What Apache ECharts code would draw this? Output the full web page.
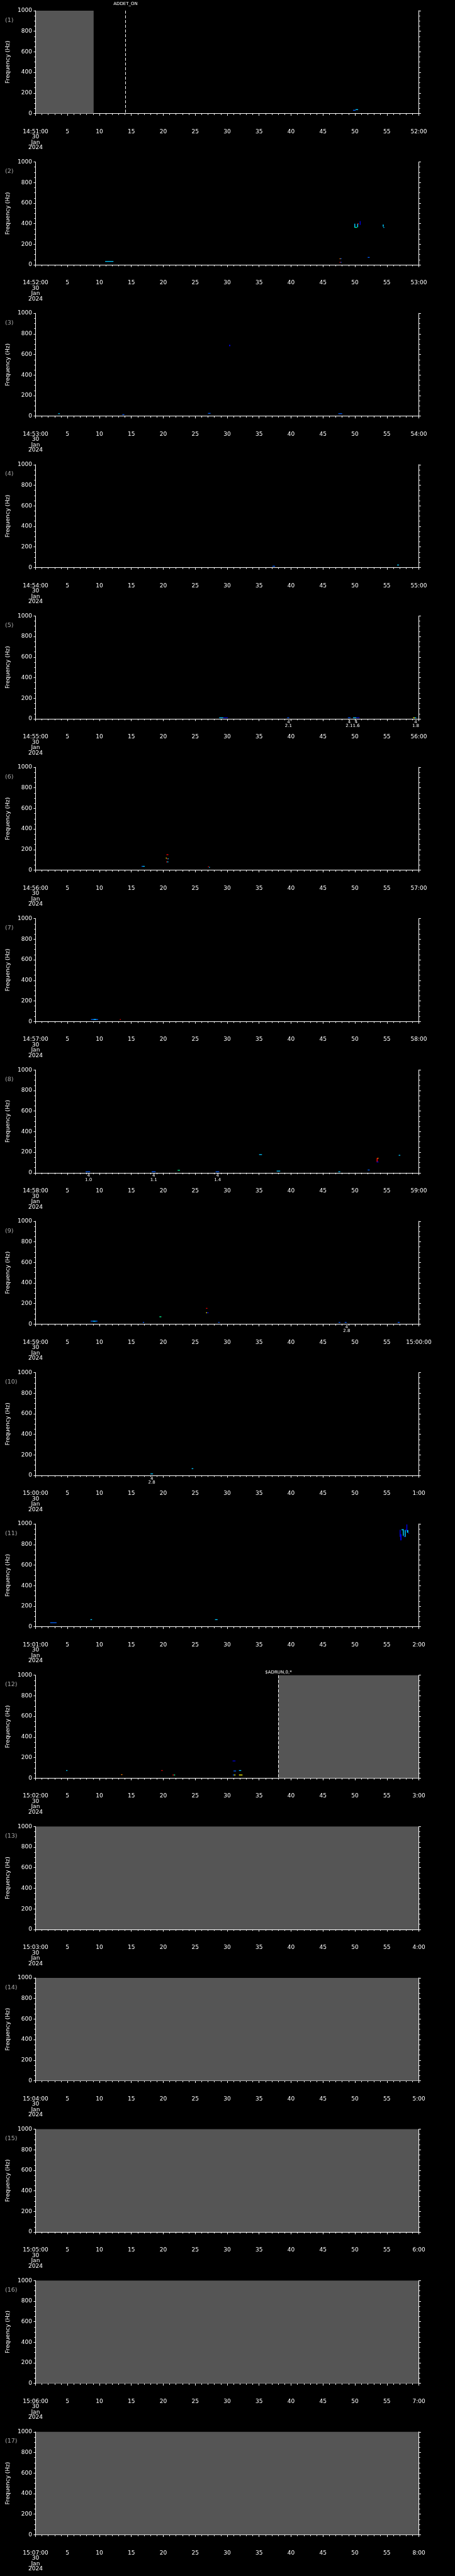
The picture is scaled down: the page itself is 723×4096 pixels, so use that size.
<!DOCTYPE html>
<html>
<head>
<meta charset="utf-8">
<script src="https://cdn.jsdelivr.net/npm/echarts@6/dist/echarts.min.js"></script>
<style>
html, body { margin: 0; padding: 0; background: #000; }
#chart { width: 723px; height: 4096px; }
</style>
</head>
<body>
<div id="chart"></div>
<script>
// one panel per minute, 30 Jan 2024
var panelStarts = ['14:51', '14:52', '14:53', '14:54', '14:55', '14:56', '14:57', '14:58', '14:59',
	'15:00', '15:01', '15:02', '15:03', '15:04', '15:05', '15:06', '15:07'];
var dateLines = ['30', 'Jan', '2024'];
var freqMin = 0, freqMax = 1000, freqStep = 200;
var secMin = 0, secMax = 60, secStep = 5;

// spectrogram blobs: [t0 (s), t1 (s), f0 (Hz), f1 (Hz), level]
var marks1 = [[49.7, 50.1, 30, 33, 1], [50.1, 50.5, 36, 40, 2]];
var marks2 = [[10.9, 12.2, 33, 33, 2], [47.6, 47.75, 59, 59, 5], [47.75, 47.9, 59, 59, 1],
	[47.6, 47.75, 24, 24, 6], [47.75, 47.9, 24, 24, 1], [49.9, 50.0, 362, 400, 2],
	[50.0, 50.35, 362, 366, 3], [50.35, 50.45, 366, 400, 2], [50.45, 50.6, 398, 400, 6],
	[50.75, 50.85, 388, 425, 0], [54.35, 54.45, 370, 392, 2], [54.45, 54.6, 362, 366, 2],
	[52.0, 52.3, 72, 72, 1]];
var marks3 = [[3.55, 3.8, 24, 24, 2], [13.6, 13.9, 15, 15, 1], [27.0, 27.4, 27, 27, 1],
	[47.4, 48.0, 24, 24, 1], [30.3, 30.5, 680, 694, 0]];
var marks4 = [[37.1, 37.5, 12, 12, 1], [56.6, 56.9, 24, 24, 2]];
var marks5 = [[28.75, 29.4, 10, 10, 2], [29.4, 30.1, 10, 10, 0], [39.4, 39.7, 10, 10, 1],
	[48.9, 49.3, 10, 10, 1], [49.7, 50.2, 10, 10, 2], [50.2, 50.7, 10, 10, 0],
	[59.1, 59.35, 10, 10, 4], [59.35, 59.6, 10, 10, 2]];
var marks6 = [[16.6, 16.8, 37, 37, 1], [16.8, 17.1, 37, 37, 2], [20.5, 20.8, 150, 150, 6],
	[20.4, 20.55, 117, 117, 4], [20.55, 20.7, 110, 110, 6], [20.7, 20.8, 110, 110, 2],
	[20.45, 20.6, 80, 80, 6], [20.6, 20.8, 80, 80, 2], [27.0, 27.15, 33, 33, 6], [27.15, 27.3, 27, 27, 2]];
var marks7 = [[8.7, 9.8, 19, 19, 1], [9.1, 9.5, 19, 19, 2], [13.2, 13.35, 19, 19, 6]];
var marks8 = [[7.85, 8.55, 10, 10, 1], [18.2, 18.8, 10, 10, 1], [22.25, 22.6, 24, 24, 3],
	[28.2, 28.75, 10, 10, 1], [35.0, 35.45, 177, 177, 2], [37.75, 38.3, 14, 19, 2],
	[47.4, 47.7, 10, 10, 2], [52.0, 52.3, 27, 27, 1], [53.4, 53.5, 105, 143, 6],
	[53.5, 53.7, 140, 143, 5], [53.4, 53.7, 105, 105, 0], [56.85, 57.1, 170, 170, 2]];
var marks9 = [[8.65, 9.7, 29, 29, 1], [9.0, 9.4, 29, 29, 2], [16.8, 17.0, 17, 17, 1],
	[19.4, 19.7, 71, 71, 3], [26.7, 26.9, 153, 153, 6], [26.7, 26.85, 110, 110, 4],
	[26.85, 27.1, 110, 110, 0], [28.6, 28.8, 17, 17, 1], [47.45, 47.7, 17, 17, 1],
	[48.4, 48.7, 17, 17, 1], [56.7, 57.0, 17, 17, 1]];
var marks10 = [[18.0, 18.4, 15, 15, 2], [24.45, 24.7, 66, 66, 2]];
var marks11 = [[2.3, 3.3, 39, 39, 1], [8.6, 8.85, 69, 69, 2], [28.1, 28.5, 69, 69, 2],
	[57.0, 57.1, 874, 943, 0], [57.1, 57.3, 840, 900, 0], [57.3, 57.5, 938, 948, 2],
	[57.5, 57.6, 885, 948, 2], [57.6, 57.85, 874, 878, 0], [57.8, 57.9, 874, 940, 2],
	[57.9, 58.05, 940, 945, 0], [58.05, 58.15, 928, 995, 0], [58.15, 58.35, 914, 940, 2],
	[58.35, 58.45, 907, 912, 0]];
var marks12 = [[4.8, 5.0, 73, 73, 2], [13.4, 13.6, 34, 34, 5], [19.7, 19.9, 73, 73, 6],
	[21.45, 21.65, 30, 30, 6], [21.65, 21.85, 30, 30, 3], [30.85, 31.3, 163, 170, 0],
	[31.0, 31.4, 69, 69, 1], [31.85, 32.2, 73, 73, 2], [30.9, 31.1, 30, 30, 1],
	[31.1, 31.3, 30, 30, 4], [31.85, 32.4, 30, 30, 4]];
var marksByPanel = [marks1, marks2, marks3, marks4, marks5, marks6, marks7, marks8, marks9,
	marks10, marks11, marks12, [], [], [], [], []];

// no-data spans: [panel, t0, t1]
var gaps = [[1, 0, 9.1], [12, 38.0, 60], [13, 0, 60], [14, 0, 60], [15, 0, 60], [16, 0, 60], [17, 0, 60]];
// command markers: [panel, t, text]
var events = [[1, 14.0, 'ADDET_ON'], [12, 38.0, '$ADRUN,0,*']];
// detection tags below the axis: [panel, t, top, bottom]
var tags = [[5, 39.6, '4', '2.1'], [5, 49.1, '4', '2.1'], [5, 50.2, '4', '1.6'], [5, 59.5, '4', '1.8'],
	[8, 8.3, '4', '1.0'], [8, 18.5, '4', '1.1'], [8, 28.5, '4', '1.4'],
	[9, 48.7, '4', '2.8'], [10, 18.2, '4', '2.8']];

var palette = ['#0000d8', '#0060ff', '#00c8ff', '#00ff90', '#ffff00', '#ff8000', '#ff0000'];

var S = 0.705;
var PLOT_LEFT = 80 * S, PLOT_W = 864 * S, PLOT_H = 232 * S;
var TOP0 = 24 * S, PITCH = 341.3 * S, AXIS_DROP = 25 * S;
var FONT = 'DejaVu Sans';
var eventLift = { 1: 11, 12: 5 };

function pad(n) { return (n < 10 ? '0' : '') + n; }
function timeLabel(start, v) {
	var h = +start.split(':')[0], m = +start.split(':')[1];
	if (v === secMin) return pad(h) + ':' + pad(m) + ':00\n' + dateLines.join('\n');
	if (v === secMax) {
		if (m + 1 === 60) return (h + 1) + ':00:00';
		return (m + 1) + ':00';
	}
	return String(v);
}

var grids = [], xAxes = [], yAxes = [], series = [], graphics = [];
panelStarts.forEach(function(start, i) {
	var top = TOP0 + i * PITCH;
	var panel = i + 1;
	grids.push({ left: PLOT_LEFT, width: PLOT_W, top: top, height: PLOT_H });
	xAxes.push({
		gridIndex: i, type: 'value', min: secMin, max: secMax, interval: secStep,
		offset: AXIS_DROP, position: 'bottom',
		axisLine: { lineStyle: { color: '#fff', width: 1 } },
		axisTick: { length: 3.5, lineStyle: { color: '#fff' } },
		minorTick: { show: true, splitNumber: 5, length: 2.3, lineStyle: { color: '#fff' } },
		splitLine: { show: false },
		axisLabel: {
			color: '#fff', fontFamily: FONT, fontSize: 9, lineHeight: 8.5, margin: 7,
			showMinLabel: true, showMaxLabel: true,
			formatter: function(v) { return timeLabel(start, v); }
		}
	});
	yAxes.push({
		gridIndex: i, type: 'value', min: freqMin, max: freqMax, interval: freqStep, position: 'left', z: 5,
		name: 'Frequency (Hz)', nameLocation: 'middle', nameGap: 35,
		nameTextStyle: { color: '#fff', fontFamily: FONT, fontSize: 9 },
		axisLine: { show: true, lineStyle: { color: '#fff', width: 1 } },
		axisTick: { length: 3, lineStyle: { color: '#fff' } },
		minorTick: { show: true, splitNumber: 4, length: 2, lineStyle: { color: '#fff' } },
		splitLine: { show: false },
		axisLabel: { color: '#fff', fontFamily: FONT, fontSize: 9, margin: 5.5,
			formatter: function(v) { return String(v); } }
	});
	yAxes.push({
		gridIndex: i, type: 'value', min: freqMin, max: freqMax, interval: freqStep, position: 'right', z: 5,
		axisLine: { show: true, lineStyle: { color: '#fff', width: 1 } },
		axisTick: { length: 3.3, lineStyle: { color: '#fff' } },
		minorTick: { show: true, splitNumber: 4, length: 2.1, lineStyle: { color: '#fff' } },
		splitLine: { show: false },
		axisLabel: { show: false }
	});
	graphics.push({
		type: 'text', left: 8, top: top + 16.2 - 6,
		style: { text: '(' + panel + ')', fill: '#a8a8a8', font: '9.5px ' + FONT }
	});

	var panelGaps = gaps.filter(function(g) { return g[0] === panel; });
	if (panelGaps.length) {
		series.push({
			type: 'custom', xAxisIndex: i, yAxisIndex: 2 * i, z: 1, silent: true,
			data: panelGaps.map(function(g) { return [g[1], g[2]]; }),
			encode: { x: [0, 1] },
			renderItem: function(params, api) {
				var a = api.coord([api.value(0), freqMax]);
				var b = api.coord([api.value(1), freqMin]);
				return { type: 'rect', shape: { x: a[0], y: a[1], width: b[0] - a[0], height: b[1] - a[1] },
					style: { fill: '#555555' } };
			}
		});
	}
	var pm = marksByPanel[i];
	if (pm.length) {
		series.push({
			type: 'custom', xAxisIndex: i, yAxisIndex: 2 * i, z: 2, silent: true,
			data: pm, encode: { x: [0, 1], y: [2, 3] },
			renderItem: function(params, api) {
				var a = api.coord([api.value(0), api.value(3)]);
				var b = api.coord([api.value(1), api.value(2)]);
				var w = Math.max(b[0] - a[0], 1.5);
				var hh = b[1] - a[1];
				var h = Math.max(hh, 1.3);
				return { type: 'rect', shape: { x: a[0], y: a[1] - (h - hh) / 2, width: w, height: h },
					style: { fill: palette[api.value(4)] } };
			}
		});
	}
	var pe = events.filter(function(e) { return e[0] === panel; });
	if (pe.length) {
		series.push({
			type: 'custom', xAxisIndex: i, yAxisIndex: 2 * i, z: 3, silent: true,
			data: pe.map(function(e) { return [e[1]]; }), encode: { x: 0 },
			renderItem: function(params, api) {
				var a = api.coord([api.value(0), freqMax]);
				var b = api.coord([api.value(0), freqMin]);
				var x = Math.round(a[0]) + 0.5;
				return { type: 'group', children: [
					{ type: 'line', shape: { x1: x, y1: a[1], x2: x, y2: b[1] },
						style: { stroke: '#fff', lineWidth: 1, lineDash: [4.7, 2.8] } },
					{ type: 'text', style: { text: pe[params.dataIndex][2], x: x, y: a[1] - eventLift[panel],
						align: 'center', verticalAlign: 'middle', fill: '#fff', font: '7px ' + FONT } }
				] };
			}
		});
	}
	var pt = tags.filter(function(t) { return t[0] === panel; });
	if (pt.length) {
		series.push({
			type: 'custom', xAxisIndex: i, yAxisIndex: 2 * i, z: 3, silent: true,
			data: pt.map(function(t) { return [t[1]]; }), encode: { x: 0 },
			renderItem: function(params, api) {
				var p = api.coord([api.value(0), freqMin]);
				var t = pt[params.dataIndex];
				return { type: 'group', children: [
					{ type: 'text', style: { text: t[2], x: p[0], y: p[1] + 4.8, align: 'center',
						verticalAlign: 'middle', fill: '#fff', font: '7px ' + FONT } },
					{ type: 'text', style: { text: t[3], x: p[0], y: p[1] + 11.2, align: 'center',
						verticalAlign: 'middle', fill: '#fff', font: '7px ' + FONT } }
				] };
			}
		});
	}
});

var chart = echarts.init(document.getElementById('chart'), null, { renderer: 'canvas' });
chart.setOption({
	backgroundColor: '#000',
	animation: false,
	grid: grids,
	xAxis: xAxes,
	yAxis: yAxes,
	series: series,
	graphic: graphics
});
</script>
</body>
</html>
